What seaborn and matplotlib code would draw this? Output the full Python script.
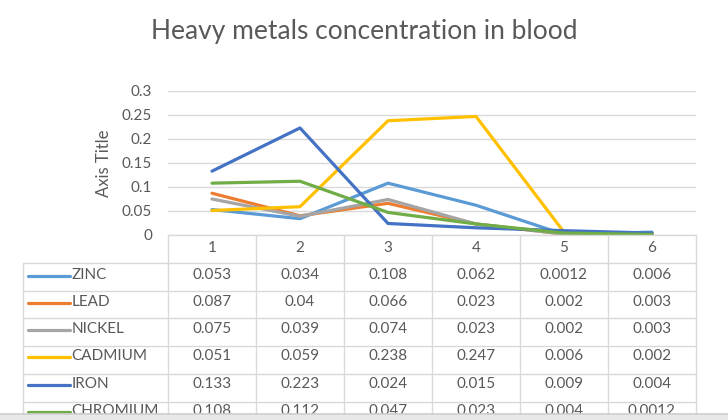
import matplotlib
matplotlib.use("Agg")
import matplotlib.pyplot as plt
import pandas as pd
import seaborn as sns

samples = [1, 2, 3, 4, 5, 6]
metals = ["ZINC", "LEAD", "NICKEL", "CADMIUM", "IRON", "CHROMIUM"]
zinc = [0.053, 0.034, 0.108, 0.062, 0.0012, 0.006]
lead = [0.087, 0.04, 0.066, 0.023, 0.002, 0.003]
nickel = [0.075, 0.039, 0.074, 0.023, 0.002, 0.003]
cadmium = [0.051, 0.059, 0.238, 0.247, 0.006, 0.002]
iron = [0.133, 0.223, 0.024, 0.015, 0.009, 0.004]
chromium = [0.108, 0.112, 0.047, 0.023, 0.004, 0.0012]
table_text = {
    "ZINC": ["0.053", "0.034", "0.108", "0.062", "0.0012", "0.006"],
    "LEAD": ["0.087", "0.04", "0.066", "0.023", "0.002", "0.003"],
    "NICKEL": ["0.075", "0.039", "0.074", "0.023", "0.002", "0.003"],
    "CADMIUM": ["0.051", "0.059", "0.238", "0.247", "0.006", "0.002"],
    "IRON": ["0.133", "0.223", "0.024", "0.015", "0.009", "0.004"],
    "CHROMIUM": ["0.108", "0.112", "0.047", "0.023", "0.004", "0.0012"],
}
yticks = [0, 0.05, 0.1, 0.15, 0.2, 0.25, 0.3]
ytick_labels = ["0", "0.05", "0.1", "0.15", "0.2", "0.25", "0.3"]

colors = ["#5B9BD5", "#ED7D31", "#A5A5A5", "#FFC000", "#4472C4", "#70AD47"]
TEXT = "#595959"
GRID = "#D9D9D9"

df = pd.DataFrame({"sample": samples * 6,
                   "metal": [m for m in metals for _ in samples],
                   "value": zinc + lead + nickel + cadmium + iron + chromium})

sns.set_theme(style="white")
plt.rcParams["font.family"] = ["Lato", "DejaVu Sans"]

W, H = 728, 420
fig = plt.figure(figsize=(W / 100, H / 100), dpi=100)

# plot area: x 168..696 px, y 91..235 px
ax = fig.add_axes([168 / W, 1 - 235 / H, 528 / W, 144 / H])
sns.lineplot(data=df, x="sample", y="value", hue="metal", hue_order=metals,
             palette=colors, linewidth=2.3, legend=False, ax=ax,
             solid_capstyle="round", solid_joinstyle="round")
ax.set_xlim(0.5, 6.5)
ax.set_ylim(0, 0.3)
ax.yaxis.grid(True, color=GRID, linewidth=1)
ax.set_axisbelow(True)
ax.set_xticks([])
ax.set_xlabel("")
ax.set_ylabel("")
for s in ax.spines.values():
    s.set_visible(False)
ax.set_yticks(yticks)
ax.set_yticklabels(ytick_labels, fontsize=11, color=TEXT)
ax.tick_params(axis="y", length=0, pad=11.5)

fig.text(104 / W, 1 - 163 / H, "Axis Title", rotation=90, ha="center",
         va="center", fontsize=12, color=TEXT)
fig.suptitle("Heavy metals concentration in blood", x=0.5, y=1 - 32 / H,
             va="center", fontsize=19, color=TEXT)

# data table below the plot: legend column 23..168 px, rows of ~27.8 px
left_units = 145 / 88
row_px = 27.8
tab = fig.add_axes([23 / W, 1 - (235 + 7 * row_px) / H, 673 / W, 7 * row_px / H])
tab.set_xlim(0.5 - left_units, 6.5)
tab.set_ylim(7, 0)
tab.axis("off")
x0 = 0.5 - left_units
kw = dict(color=GRID, linewidth=1, clip_on=False)
tab.plot([0.5, 6.5], [0, 0], **kw)
for b in range(7):
    tab.plot([b + 0.5, b + 0.5], [0, 7], **kw)
tab.plot([x0, x0], [1, 7], **kw)
for r in range(1, 7):
    tab.plot([x0, 6.5], [r, r], **kw)
for s in samples:
    tab.text(s, 0.47, str(s), ha="center", va="center", fontsize=11, color=TEXT)
for i, m in enumerate(metals):
    ty = i + 1.5 - 0.07 - 0.02 * i
    tab.plot([x0 + 0.06, x0 + 0.53], [ty + 0.03, ty + 0.03], color=colors[i],
             linewidth=2.3, solid_capstyle="round", clip_on=False)
    tab.text(x0 + 0.55, ty, m, ha="left", va="center", fontsize=11, color=TEXT)
    for s, t in zip(samples, table_text[m]):
        tab.text(s, ty, t, ha="center", va="center", fontsize=11, color=TEXT)

# grey strip at the very bottom of the screenshot
strip = fig.add_axes([0, 0, 1, 6 / H])
strip.set_facecolor("#E8E8E8")
strip.set_xticks([])
strip.set_yticks([])
for k, s in strip.spines.items():
    s.set_visible(k == "top")
strip.spines["top"].set_color("#CFCFCF")

fig.savefig("out.png", dpi=100, facecolor="white")
